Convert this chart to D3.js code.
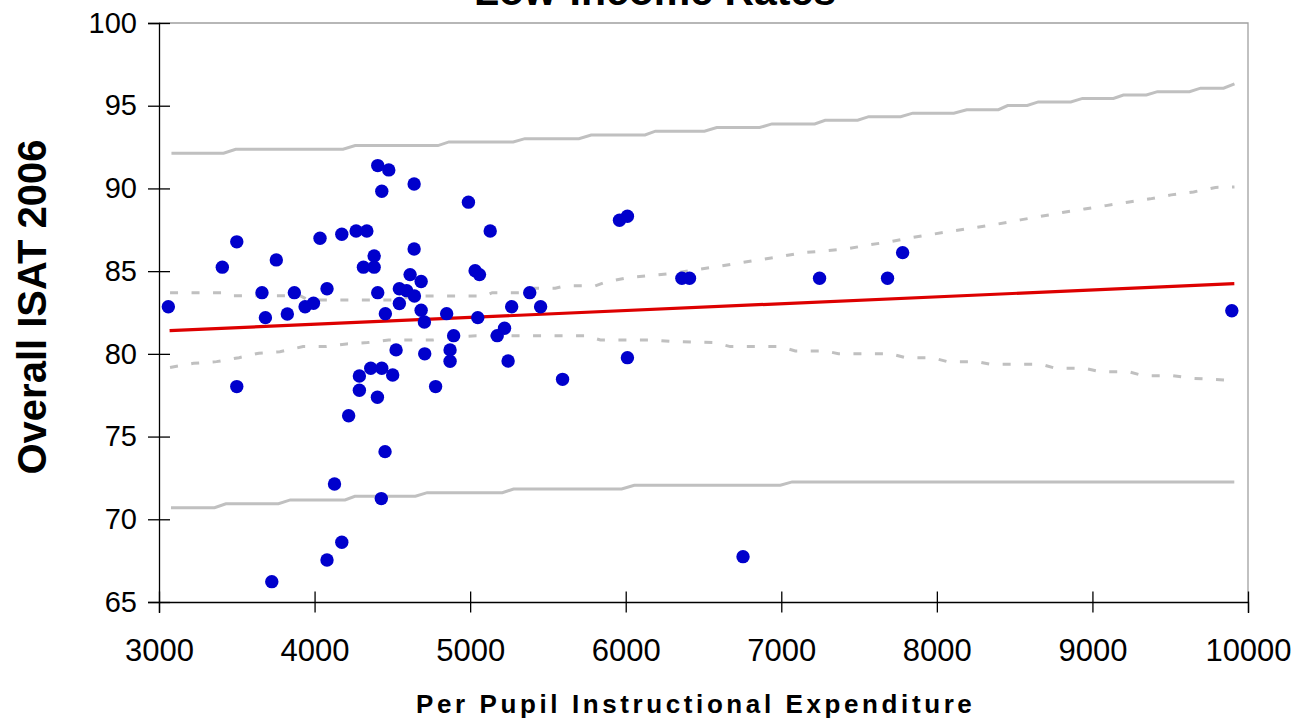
<!DOCTYPE html>
<html>
<head>
<meta charset="utf-8">
<title>Low-Income Rates</title>
<script src="https://cdnjs.cloudflare.com/ajax/libs/d3/7.8.5/d3.min.js"></script>
<style>
  html, body { margin: 0; padding: 0; background: #fff; }
  svg { display: block; font-family: "Liberation Sans", Arial, sans-serif; }
</style>
</head>
<body>
<div id="chart"></div>
<script>
// per pupil instructional expenditure (x) and overall ISAT 2006 (y), one entry per school
const spend = [3060, 3407, 3500, 3500, 3662, 3684, 3725, 3754, 3825, 3870, 3939, 3993, 4035, 4080, 4080, 4128,
  4175, 4175, 4219, 4267, 4288, 4288, 4314, 4336, 4361, 4383, 4383, 4404, 4406, 4406, 4429, 4432, 4432, 4453,
  4455, 4477, 4502, 4524, 4545, 4545, 4592, 4614, 4640, 4640, 4642, 4685, 4685, 4706, 4708, 4778, 4849, 4871,
  4871, 4894, 4989, 5032, 5060, 5049, 5129, 5174, 5221, 5244, 5267, 5383, 5453, 5594, 5960, 6011, 6011, 6361,
  6410, 6754, 7246, 7683, 7780, 9896];
const isat = [82.85, 85.24, 86.77, 78.02, 83.70, 82.19, 66.23, 85.68, 82.41, 83.70, 82.85, 83.06, 86.99, 83.94, 67.54, 72.13,
  87.23, 68.61, 76.26, 87.43, 78.66, 77.80, 85.24, 87.43, 79.13, 85.92, 85.24, 77.38, 91.38, 83.70, 71.25, 89.83, 79.13, 74.09,
  82.43, 91.12, 78.72, 80.24, 83.94, 83.04, 83.82, 84.79, 90.27, 86.34, 83.50, 84.37, 82.64, 81.93, 80.00, 78.02, 82.43, 80.24,
  79.55, 81.10, 89.17, 85.03, 84.79, 82.19, 87.43, 81.10, 81.55, 79.57, 82.85, 83.70, 82.85, 78.46, 88.08, 88.32, 79.77, 84.57,
  84.57, 67.74, 84.57, 84.57, 86.12, 82.61];

// fitted line
const fitX = [3068, 9912];
const fitY = [81.40, 84.24];

// upper / lower prediction band (solid grey)
const upperPredX = [3080, 3415, 3493, 4183, 4261, 4793, 4864, 5277, 5352, 5699, 5778, 6124, 6191, 6506, 6585, 6861,
  6940, 7215, 7282, 7491, 7562, 7767, 7845, 8109, 8192, 8396, 8455, 8581, 8652, 8861, 8936, 9135, 9199, 9347,
  9418, 9624, 9695, 9843, 9913];
const upperPredY = [92.13, 92.13, 92.37, 92.37, 92.59, 92.59, 92.81, 92.81, 93.01, 93.01, 93.23, 93.23, 93.46, 93.46,
  93.68, 93.68, 93.90, 93.90, 94.12, 94.12, 94.34, 94.34, 94.55, 94.55, 94.76, 94.76, 95.01, 95.01, 95.23, 95.23,
  95.44, 95.44, 95.65, 95.65, 95.85, 95.85, 96.06, 96.06, 96.32];
const lowerPredX = [3077, 3357, 3430, 3768, 3844, 4196, 4259, 4648, 4724, 5207, 5279, 5974, 6055, 6994, 7070, 9912];
const lowerPredY = [70.70, 70.70, 70.94, 70.94, 71.17, 71.17, 71.39, 71.39, 71.61, 71.61, 71.83, 71.83, 72.06, 72.06,
  72.26, 72.26];

// upper / lower confidence band (dashed grey)
const upperConfX = [3071, 3424, 3469, 3907, 3958, 4550, 4614, 5097, 5142, 5354, 5399, 5547, 5611, 5804, 5881, 6017,
  6158, 6303, 6439, 6587, 6723, 6858, 6994, 7138, 7277, 7417, 7560, 7702, 7837, 7972, 8117, 8257, 8392, 8537,
  8666, 8807, 8949, 9087, 9227, 9371, 9506, 9650, 9791, 9913];
const upperConfY = [83.70, 83.70, 83.52, 83.52, 83.26, 83.26, 83.50, 83.50, 83.70, 83.70, 83.97, 83.97, 84.11, 84.11,
  84.37, 84.61, 84.74, 84.87, 85.07, 85.27, 85.48, 85.68, 85.88, 86.12, 86.22, 86.34, 86.58, 86.78, 87.03, 87.23,
  87.45, 87.65, 87.85, 88.10, 88.31, 88.54, 88.76, 88.96, 89.17, 89.37, 89.61, 89.79, 90.06, 90.09];
const lowerConfX = [3071, 3222, 3370, 3514, 3641, 3777, 3926, 4070, 4205, 4341, 4476, 4762, 4904, 5039, 5746, 5837,
  6158, 6303, 6574, 6672, 6994, 7090, 7282, 7367, 7701, 7798, 7971, 8068, 8257, 8344, 8672, 8762, 8949, 9052,
  9232, 9328, 9515, 9650, 9913];
const lowerConfY = [79.18, 79.43, 79.53, 79.77, 80.04, 80.13, 80.44, 80.44, 80.60, 80.68, 80.84, 80.84, 81.02, 81.10,
  81.10, 80.84, 80.84, 80.75, 80.68, 80.44, 80.44, 80.18, 80.18, 80.01, 80.01, 79.77, 79.77, 79.53, 79.53, 79.37,
  79.37, 79.13, 79.13, 78.92, 78.92, 78.68, 78.68, 78.52, 78.39];

const xTicks = [3000, 4000, 5000, 6000, 7000, 8000, 9000, 10000];
const yTicks = [65, 70, 75, 80, 85, 90, 95, 100];

const W = 1307, H = 722;
const plotLeft = 159, plotRight = 1248, plotTop = 23, plotBottom = 602;

const svg = d3.select("#chart").append("svg")
  .attr("width", W)
  .attr("height", H);

const x = d3.scaleLinear().domain([3000, 10000]).range([plotLeft, plotRight]);
const y = d3.scaleLinear().domain([65, 100]).range([plotBottom, plotTop]);

// plot frame (top & right)
svg.append("path")
  .attr("d", `M${plotLeft},${plotTop}H${plotRight}V${plotBottom}`)
  .attr("fill", "none")
  .attr("stroke", "#a0a0a0")
  .attr("stroke-width", 1.3);

const line = d3.line().x(d => x(d[0])).y(d => y(d[1]));
const zip = (a, b) => a.map((v, i) => [v, b[i]]);

svg.append("path").datum(zip(upperPredX, upperPredY))
  .attr("d", line).attr("fill", "none").attr("stroke", "#c0c0c0").attr("stroke-width", 3);
svg.append("path").datum(zip(lowerPredX, lowerPredY))
  .attr("d", line).attr("fill", "none").attr("stroke", "#c0c0c0").attr("stroke-width", 3);

[zip(upperConfX, upperConfY), zip(lowerConfX, lowerConfY)].forEach(pts => {
  svg.append("path").datum(pts)
    .attr("d", line)
    .attr("fill", "none")
    .attr("stroke", "#c0c0c0")
    .attr("stroke-width", 3)
    .attr("stroke-dasharray", "8,13.5");
});

// axes
const yAxis = svg.append("g")
  .attr("transform", `translate(${plotLeft},0)`)
  .call(d3.axisLeft(y).tickValues(yTicks).tickSize(11).tickPadding(11));
const xAxis = svg.append("g")
  .attr("transform", `translate(0,${plotBottom})`)
  .call(d3.axisBottom(x).tickValues(xTicks).tickFormat(d3.format("d")).tickSize(11).tickPadding(11));

[yAxis, xAxis].forEach(g => {
  g.attr("font-family", null);
  g.select(".domain").attr("stroke", "#000").attr("stroke-width", 1.3);
  g.selectAll(".tick line").attr("stroke", "#000").attr("stroke-width", 1.3);
});
yAxis.selectAll(".tick line").attr("x1", 11).attr("x2", -11);
yAxis.selectAll(".tick text")
  .attr("x", -22)
  .attr("font-size", 29)
  .attr("fill", "#000");
xAxis.selectAll(".tick line").attr("y1", -10.5).attr("y2", 10.5);
xAxis.selectAll(".tick text")
  .attr("y", 59).attr("dy", 0)
  .attr("font-size", 31)
  .attr("fill", "#000");

// fitted line
svg.append("path").datum(zip(fitX, fitY))
  .attr("d", line).attr("fill", "none").attr("stroke", "#dd0000").attr("stroke-width", 3.2);

// schools
svg.append("g").selectAll("circle")
  .data(zip(spend, isat))
  .join("circle")
  .attr("cx", d => x(d[0]))
  .attr("cy", d => y(d[1]))
  .attr("r", 6.7)
  .attr("fill", "#0000cc");

// titles
svg.append("text")
  .attr("x", 655).attr("y", 5)
  .attr("text-anchor", "middle")
  .attr("font-size", 41).attr("font-weight", "bold")
  .text("Low-Income Rates");

svg.append("text")
  .attr("transform", "translate(46,307) rotate(-90)")
  .attr("text-anchor", "middle")
  .attr("font-size", 40).attr("font-weight", "bold")
  .text("Overall ISAT 2006");

svg.append("text")
  .attr("x", 416).attr("y", 713)
  .attr("font-size", 26).attr("font-weight", "bold")
  .attr("letter-spacing", 3.6)
  .text("Per Pupil Instructional Expenditure");
</script>
</body>
</html>
